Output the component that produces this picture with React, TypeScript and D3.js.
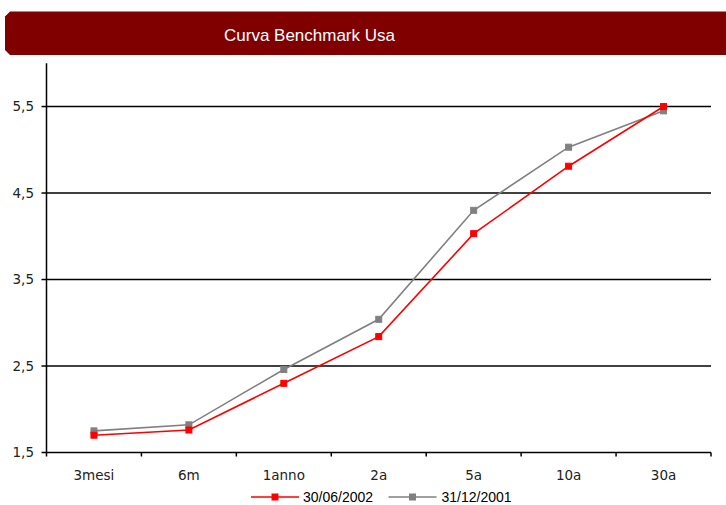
import React from "react";
import * as d3 from "d3";

// Maturities along the curve
const categories = ["3mesi", "6m", "1anno", "2a", "5a", "10a", "30a"];

// Yields (%) for each date
const serieGiugno2002 = [1.7, 1.76, 2.3, 2.84, 4.03, 4.81, 5.5];
const serieDicembre2001 = [1.75, 1.82, 2.46, 3.04, 4.3, 5.03, 5.45];

const seriesNames = ["30/06/2002", "31/12/2001"];
const seriesColors = ["#ff0000", "#808080"];

const yTicks = [1.5, 2.5, 3.5, 4.5, 5.5];
const gridValues = [2.5, 3.5, 4.5, 5.5];

const W = 726;
const H = 505;
const left = 46.5;
const right = 711;
const top = 63.3;
const bottom = 452.5;

const fmt = (v: number) => d3.format(".1f")(v).replace(".", ",");

export default function App() {
  const x = d3.scaleBand<string>().domain(categories).range([left, right]).padding(0);
  const y = d3.scaleLinear().domain([1.5, 6]).range([bottom, top]);

  const line = d3
    .line<number>()
    .x((_, i) => (x(categories[i]) as number) + x.bandwidth() / 2)
    .y((d) => y(d));

  const series = [serieGiugno2002, serieDicembre2001];
  const boundaries = [...categories.map((c) => x(c) as number), right];

  const axisFont = "'DejaVu Sans', Verdana, sans-serif";

  // Title banner with chamfered left corners
  const c = 5;
  const bx = 5;
  const by = 11.5;
  const bb = 55;
  const banner = `M${bx + c},${by} L${W},${by} L${W},${bb} L${bx + c},${bb} L${bx},${bb - c} L${bx},${by + c} Z`;

  const legendItems = [
    { lx: 251, tx: 303, name: seriesNames[0], color: seriesColors[0] },
    { lx: 388.5, tx: 441.5, name: seriesNames[1], color: seriesColors[1] },
  ];
  const legendY = 497;

  return (
    <svg
      width={W}
      height={H}
      style={{ position: "absolute", left: 0, top: 0, background: "#fff" }}
    >
      <path d={banner} fill="#800000" />
      <text
        x={309.5}
        y={40.5}
        fill="#fff"
        fontFamily="'Liberation Sans', Arial, sans-serif"
        fontSize={17}
        textAnchor="middle"
      >
        Curva Benchmark Usa
      </text>

      {/* horizontal gridlines */}
      {gridValues.map((v) => (
        <line key={v} x1={left} x2={right} y1={y(v)} y2={y(v)} stroke="#000" strokeWidth={1.5} />
      ))}

      {/* y axis */}
      <line x1={left} x2={left} y1={top} y2={bottom} stroke="#000" strokeWidth={1.5} />
      {yTicks.map((v) => (
        <g key={v}>
          <line x1={left - 5} x2={left} y1={y(v)} y2={y(v)} stroke="#000" strokeWidth={1.5} />
          <text
            x={34}
            y={y(v)}
            dy="0.36em"
            textAnchor="end"
            fontFamily={axisFont}
            fontSize={13.5}
            fill="#222"
          >
            {fmt(v)}
          </text>
        </g>
      ))}

      {/* x axis */}
      <line x1={left} x2={right} y1={bottom} y2={bottom} stroke="#000" strokeWidth={1.5} />
      {boundaries.map((bxv, i) => (
        <line key={i} x1={bxv} x2={bxv} y1={bottom} y2={bottom + 4} stroke="#000" strokeWidth={1.5} />
      ))}
      {categories.map((cat) => (
        <text
          key={cat}
          x={(x(cat) as number) + x.bandwidth() / 2}
          y={480}
          textAnchor="middle"
          fontFamily={axisFont}
          fontSize={13.5}
          fill="#222"
        >
          {cat}
        </text>
      ))}

      {/* series lines and markers (older date drawn first) */}
      {[1, 0].map((si) => (
        <g key={si}>
          <path d={line(series[si]) as string} fill="none" stroke={seriesColors[si]} strokeWidth={1.6} />
          {series[si].map((v, i) => (
            <rect
              key={i}
              x={(x(categories[i]) as number) + x.bandwidth() / 2 - 3}
              y={y(v) - 3}
              width={6}
              height={6}
              fill={seriesColors[si]}
              stroke={seriesColors[si]}
              strokeWidth={1}
            />
          ))}
        </g>
      ))}

      {/* legend */}
      {legendItems.map((it) => (
        <g key={it.name}>
          <line x1={it.lx} x2={it.lx + 48} y1={legendY} y2={legendY} stroke={it.color} strokeWidth={1.6} />
          <rect x={it.lx + 24 - 3} y={legendY - 3} width={6} height={6} fill={it.color} stroke={it.color} />
          <text
            x={it.tx}
            y={legendY}
            dy="0.36em"
            fontFamily="'Liberation Sans', Arial, sans-serif"
            fontSize={14}
            fill="#000"
          >
            {it.name}
          </text>
        </g>
      ))}
    </svg>
  );
}
